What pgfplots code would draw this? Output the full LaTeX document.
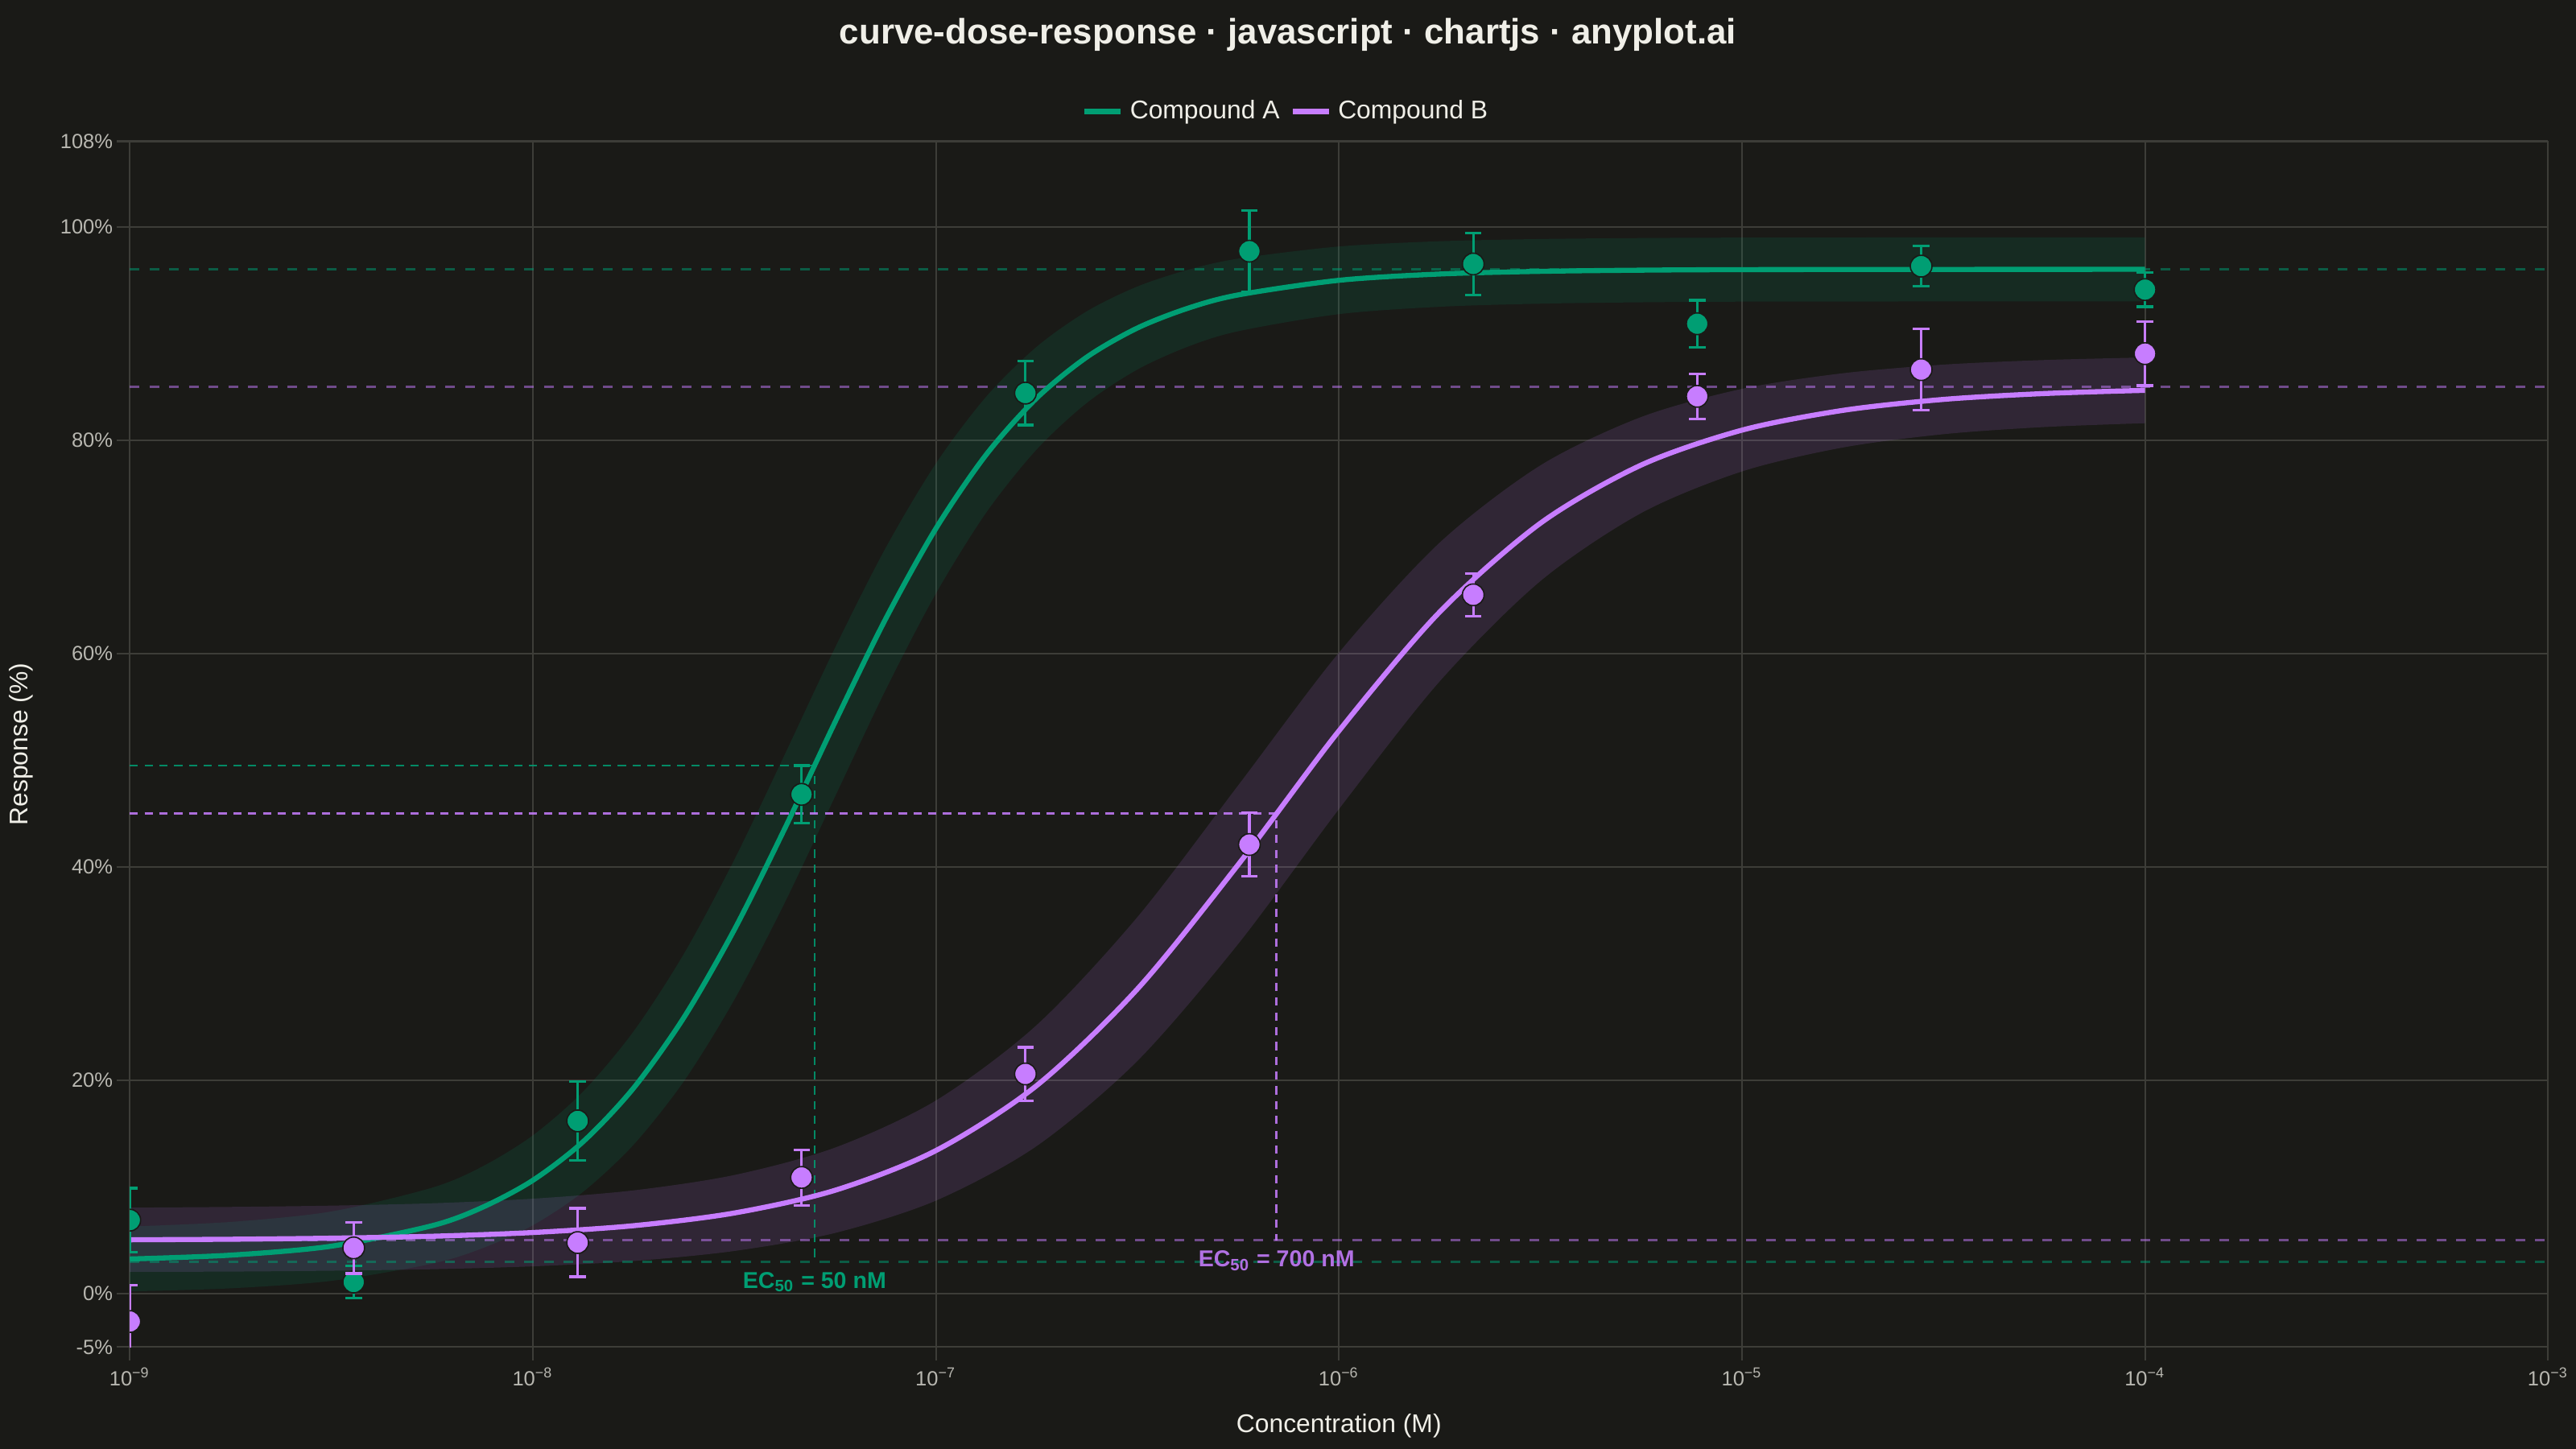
\documentclass[border=0pt]{standalone}
\usepackage{fontspec}
\setmainfont{Liberation Sans}
\usepackage{xcolor}
\usepackage{pgfplots}
\pgfplotsset{compat=1.18}
\usepackage{pgfplotstable}
\usepgfplotslibrary{fillbetween}
\definecolor{bg}{HTML}{1A1A17}
\definecolor{cA}{HTML}{009E73}
\definecolor{cB}{HTML}{C77DFF}
\definecolor{gridc}{HTML}{3D3D38}
\definecolor{textc}{HTML}{F0EFE8}
\definecolor{tickc}{HTML}{B8B7B0}
\pagecolor{bg}

\pgfplotstableread{
x up lo c
1e-9 6.30 0.22 3.26
1.7783e-9 6.73 0.51 3.62
3.1623e-9 7.71 1.21 4.46
5.6234e-9 9.94 2.82 6.38
7.4989e-9 11.93 4.27 8.10
1e-8 14.84 6.42 10.63
1.3335e-8 18.96 9.56 14.26
1.7783e-8 24.59 13.97 19.28
2.3714e-8 31.87 19.93 25.90
3.1623e-8 40.68 27.56 34.12
4.2170e-8 50.53 36.65 43.59
5.6234e-8 60.55 46.61 53.58
7.4989e-8 69.86 56.56 63.21
1e-7 77.80 65.62 71.71
1.3335e-7 84.07 73.21 78.64
1.7783e-7 88.74 79.12 83.93
2.3714e-7 92.08 83.50 87.79
3.1623e-7 94.39 86.61 90.50
4.2170e-7 95.95 88.75 92.35
5.6234e-7 97.00 90.20 93.60
1e-6 98.14 91.80 94.97
1.7783e-6 98.63 92.49 95.56
3.1623e-6 98.84 92.78 95.81
5.6234e-6 98.93 92.91 95.92
1e-5 98.97 92.97 95.97
3.1623e-5 98.99 92.99 95.99
1e-4 99.00 93.00 96.00
}\curveA

\pgfplotstableread{
x up lo c
1e-9 8.07 2.05 5.06
1.7783e-9 8.14 2.08 5.11
3.1623e-9 8.26 2.16 5.21
5.6234e-9 8.48 2.30 5.39
1e-8 8.91 2.57 5.74
1.7783e-8 9.69 3.07 6.38
3.1623e-8 11.13 4.01 7.57
5.6234e-8 13.70 5.70 9.70
1e-7 18.11 8.73 13.42
1.7783e-7 25.18 13.84 19.51
3.1623e-7 35.30 21.82 28.56
5.6234e-7 47.64 32.78 40.21
1e-6 60.08 45.42 52.75
1.7783e-6 70.39 57.39 63.89
3.1623e-6 77.63 66.79 72.21
5.6234e-6 82.16 73.16 77.66
1e-5 84.80 77.06 80.93
1.7783e-5 86.26 79.30 82.78
3.1623e-5 87.07 80.55 83.81
5.6234e-5 87.50 81.22 84.36
1e-4 87.74 81.58 84.66
}\curveB

\pgfplotstableread{
x y e
1e-9 6.9 3.0
3.594e-9 1.1 1.5
1.292e-8 16.2 3.7
4.642e-8 46.8 2.7
1.668e-7 84.4 3.0
5.995e-7 97.7 3.8
2.154e-6 96.5 2.9
7.743e-6 90.9 2.2
2.783e-5 96.3 1.9
1e-4 94.1 1.6
}\ptsA

\pgfplotstableread{
x y e
1e-9 -2.6 3.4
3.594e-9 4.3 2.4
1.292e-8 4.8 3.2
4.642e-8 10.9 2.6
1.668e-7 20.6 2.5
5.995e-7 42.1 3.0
2.154e-6 65.5 2.0
7.743e-6 84.1 2.1
2.783e-5 86.6 3.8
1e-4 88.1 3.0
}\ptsB

\begin{document}
\begin{tikzpicture}
\node[text=textc, font=\fontsize{10.75}{12}\selectfont\bfseries] at (392pt,430.5pt) {curve-dose-response · javascript · chartjs · anyplot.ai};
\begin{axis}[
  at={(39.5pt,31pt)}, anchor=south west,
  scale only axis, width=736pt, height=367pt,
  xmode=log, xmin=1e-9, xmax=1e-3,
  ymin=-5, ymax=108,
  xtick={1e-9,1e-8,1e-7,1e-6,1e-5,1e-4,1e-3},
  xticklabels={10\textsuperscript{−9},10\textsuperscript{−8},10\textsuperscript{−7},10\textsuperscript{−6},10\textsuperscript{−5},10\textsuperscript{−4},10\textsuperscript{−3}},
  ytick={-5,0,20,40,60,80,100,108},
  yticklabels={-5\%,0\%,20\%,40\%,60\%,80\%,100\%,108\%},
  xminorticks=false, yminorticks=false,
  xtick pos=bottom, ytick pos=left,
  grid=major,
  major grid style={draw=gridc, line width=0.5pt},
  axis line style={draw=none},
  tick align=outside, major tick length=4pt,
  major tick style={draw=gridc, line width=0.5pt},
  ticklabel style={font=\fontsize{6.25}{7}\selectfont, text=tickc},
  yticklabel style={anchor=east, inner sep=0pt, xshift=-1pt},
  xticklabel style={anchor=north, inner sep=0pt, yshift=-2pt},
  xlabel={Concentration (M)},
  ylabel={Response (\%)},
  label style={font=\fontsize{7.8}{9}\selectfont, text=textc},
  xlabel style={at={(axis description cs:0.5,-0.0654)}, anchor=center},
  ylabel style={at={(axis description cs:-0.0448,0.5)}, anchor=center},
  clip marker paths=true,
  legend style={at={(0.479,1)}, anchor=center, yshift=9pt, draw=none, fill=none,
    text=textc, font=\fontsize{7.8}{9}\selectfont, legend columns=2,
    /tikz/every even column/.append style={column sep=1.2pt}},
  legend image code/.code={\draw[#1, line width=1.6pt] (0pt,0pt) -- (11pt,0pt);},
]
\addlegendimage{draw=cA}
\addlegendentry{Compound A}
\addlegendimage{draw=cB}
\addlegendentry{Compound B}

% confidence bands
\addplot[draw=none, name path=Au, smooth, forget plot] table[x=x,y=up]{\curveA};
\addplot[draw=none, name path=Al, smooth, forget plot] table[x=x,y=lo]{\curveA};
\addplot[fill=cA, fill opacity=0.13, draw=none, forget plot] fill between[of=Au and Al];
\addplot[draw=none, name path=Bu, smooth, forget plot] table[x=x,y=up]{\curveB};
\addplot[draw=none, name path=Bl, smooth, forget plot] table[x=x,y=lo]{\curveB};
\addplot[fill=cB, fill opacity=0.13, draw=none, forget plot] fill between[of=Bu and Bl];

% plateau lines
\addplot[cA, opacity=0.5, line width=0.75pt, dash pattern=on 3pt off 3pt, forget plot] coordinates {(1e-9,96) (1e-3,96)};
\addplot[cA, opacity=0.5, line width=0.75pt, dash pattern=on 3pt off 3pt, forget plot] coordinates {(1e-9,3) (1e-3,3)};
\addplot[cB, opacity=0.5, line width=0.75pt, dash pattern=on 3pt off 3pt, forget plot] coordinates {(1e-9,85) (1e-3,85)};
\addplot[cB, opacity=0.5, line width=0.75pt, dash pattern=on 3pt off 3pt, forget plot] coordinates {(1e-9,5) (1e-3,5)};

% EC50 crosshairs
\addplot[cA, opacity=0.85, line width=0.6pt, dash pattern=on 2.5pt off 2pt, forget plot] coordinates {(1e-9,49.5) (5e-8,49.5) (5e-8,3)};
\addplot[cB, opacity=0.85, line width=0.6pt, dash pattern=on 2.5pt off 2pt, forget plot] coordinates {(1e-9,45) (7e-7,45) (7e-7,5)};

% fitted curves
\addplot[cA, line width=1.55pt, smooth, forget plot] table[x=x,y=c]{\curveA};
\addplot[cB, line width=1.55pt, smooth, forget plot] table[x=x,y=c]{\curveB};

% data points
\addplot[only marks, mark=*, mark size=3.3pt, mark options={fill=cA, draw=bg, line width=0.4pt}, forget plot,
  error bars/.cd, y dir=both, y explicit,
  error bar style={draw=cA, line width=0.75pt},
  error mark options={rotate=90, mark size=2.5pt, line width=0.8pt, draw=cA}]
  table[x=x, y=y, y error=e]{\ptsA};
\addplot[only marks, mark=*, mark size=3.3pt, mark options={fill=cB, draw=bg, line width=0.4pt}, forget plot,
  error bars/.cd, y dir=both, y explicit,
  error bar style={draw=cB, line width=0.75pt},
  error mark options={rotate=90, mark size=2.5pt, line width=0.8pt, draw=cB}]
  table[x=x, y=y, y error=e]{\ptsB};

\node[text=cA, font=\fontsize{7}{8}\selectfont\bfseries] at (axis cs:5e-8,1.1) {EC\textsubscript{50} = 50 nM};
\node[text=cB!88!bg, font=\fontsize{7}{8}\selectfont\bfseries] at (axis cs:7e-7,3.1) {EC\textsubscript{50} = 700 nM};
\end{axis}
\pgfresetboundingbox
\useasboundingbox (0,0) rectangle (784pt,441pt);
\end{tikzpicture}
\end{document}
